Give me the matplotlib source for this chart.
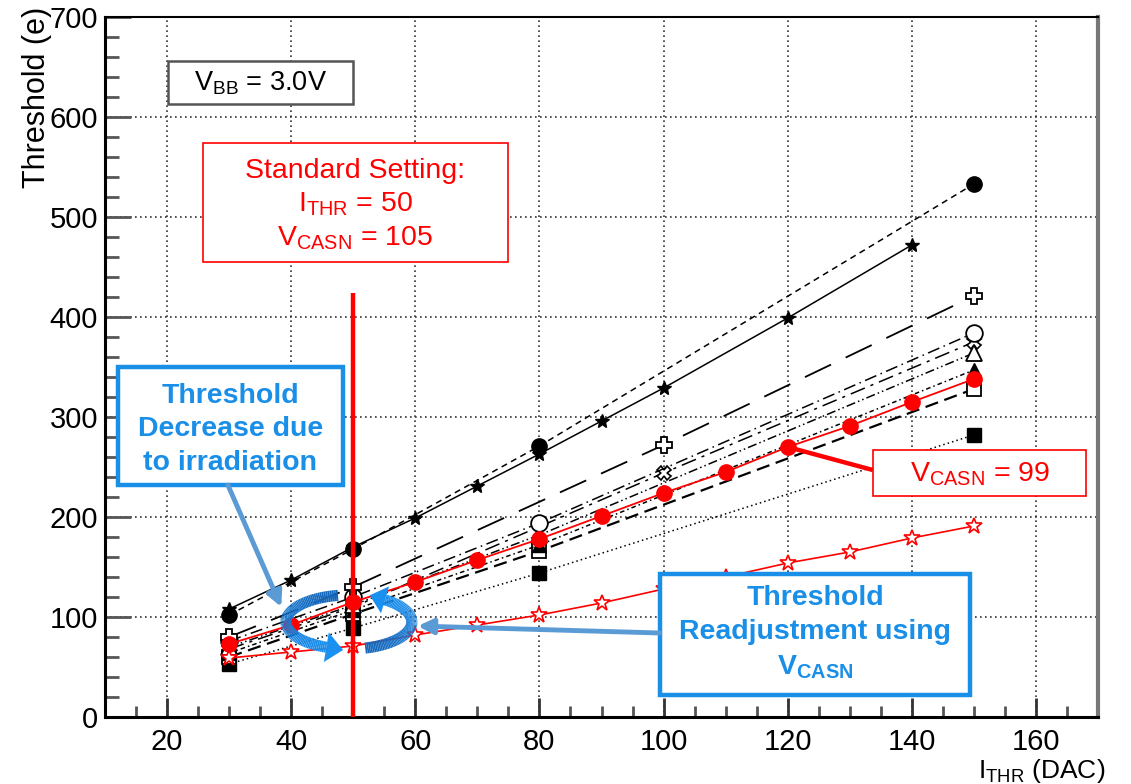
import numpy as np
import matplotlib
matplotlib.use("Agg")
import matplotlib.pyplot as plt
import matplotlib.transforms as mtransforms
from matplotlib.patches import Rectangle, Polygon
from matplotlib.collections import LineCollection
from matplotlib.ticker import MultipleLocator

plt.rcParams['font.family'] = ['Liberation Sans', 'DejaVu Sans']
plt.rcParams['mathtext.fontset'] = 'custom'
plt.rcParams['mathtext.rm'] = 'Liberation Sans'
plt.rcParams['mathtext.it'] = 'Liberation Sans:italic'
plt.rcParams['mathtext.bf'] = 'Liberation Sans:bold'

# ---------------- data ----------------
x_full = [30, 40, 50, 60, 70, 80, 90, 100, 110, 120, 130, 140, 150]
red_circle_y = [73, 92, 115, 135, 157, 178, 201, 224, 245, 270, 291, 315, 338]
red_star_y = [59, 65, 71, 82, 92, 102, 114, 128, 140, 154, 165, 179, 191]

star_x = [30, 40, 50, 60, 70, 80, 90, 100, 120, 140]
star_y = [108, 137, 170, 199, 231, 263, 296, 329, 399, 472]

x_four = [30, 50, 80, 150]
fcirc_y = [102, 168, 271, 533]
ocirc_y = [76, 120, 194, 384]
otri_y = [70, 112, 182, 364]
ftri_y = [64, 107, 172, 347]
osq_y = [60, 103, 166, 328]
fsq_y = [53, 89, 144, 282]

x_alt = [30, 50, 100, 150]
cross_y = [80, 130, 272, 421]
odiam_y = [68, 110, 244, 375]

xticks = [20, 40, 60, 80, 100, 120, 140, 160]
yticks = [0, 100, 200, 300, 400, 500, 600, 700]

# ---------------- figure ----------------
W, H = 1131, 784
fig = plt.figure(figsize=(W / 100, H / 100), dpi=100)
ax = fig.add_axes([105 / W, 1 - 717 / H, 993 / W, 700 / H])
ax.set_xlim(10, 170)
ax.set_ylim(0, 700)

ax.set_xticks(xticks)
ax.set_yticks(yticks)
ax.xaxis.set_minor_locator(MultipleLocator(5))
ax.yaxis.set_minor_locator(MultipleLocator(20))
ax.tick_params(axis='both', which='both', direction='in', labelsize=21)
ax.tick_params(axis='y', which='major', length=19, width=2, color='#555555', pad=5)
ax.tick_params(axis='y', which='minor', length=10, width=2, color='#555555')
ax.tick_params(axis='x', which='major', length=14, width=2, color='#333333', pad=8)
ax.tick_params(axis='x', which='minor', length=8, width=2, color='#555555')
ax.grid(True, which='major', linestyle=(0, (1, 2)), color='#333333', linewidth=1.2)
for s in ['left', 'bottom']:
    ax.spines[s].set_linewidth(2.2)
ax.spines['top'].set_linewidth(1.5)
ax.spines['right'].set_linewidth(3)
ax.spines['right'].set_color('#777777')

k = 'black'
lw = 1.1
ax.plot(x_four, fsq_y, color=k, lw=lw, ls=(0, (1, 2)), marker='s', ms=10, mfc=k, mec=k, zorder=3)
ax.plot(x_four, osq_y, color=k, lw=1.6, ls=(0, (6, 3)), marker='s', ms=10, mfc='white', mec=k, mew=1.3, zorder=3)
ax.plot(x_four, ftri_y, color=k, lw=lw, ls=(0, (3, 2, 1, 2)), marker='^', ms=10, mfc=k, mec=k, zorder=3)
ax.plot(x_alt, odiam_y, color=k, lw=lw, ls=(0, (10, 4, 2, 4)), marker='X', ms=10, mfc='white', mec=k, mew=1.2, zorder=3)
ax.plot(x_four, otri_y, color=k, lw=lw, ls=(0, (6, 2, 1, 2, 1, 2)), marker='^', ms=11, mfc='white', mec=k, mew=1.3, zorder=3)
ax.plot(x_four, ocirc_y, color=k, lw=lw, ls=(0, (8, 3, 1, 3)), marker='o', ms=12, mfc='white', mec=k, mew=1.3, zorder=3)
ax.plot(x_alt, cross_y, color=k, lw=1.3, ls=(0, (16, 9)), marker='P', ms=11, mfc='white', mec=k, mew=1.3, zorder=3)
ax.plot(star_x, star_y, color=k, lw=lw, ls='-', marker='*', ms=10, mfc=k, mec=k, zorder=3)
ax.plot(x_four, fcirc_y, color=k, lw=lw, ls=(0, (4, 3)), marker='o', ms=11, mfc=k, mec=k, zorder=3)

ax.plot(x_full, red_star_y, color='red', lw=1.2, marker='*', ms=12, mfc='white', mec='red', mew=1.2, zorder=4)
ax.plot(x_full, red_circle_y, color='red', lw=1.3, marker='o', ms=11, mfc='red', mec='red', zorder=4)

# standard setting line
ax.plot([50, 50], [0, 424], color='red', lw=3.2, zorder=5, solid_capstyle='butt')

# ---------------- annotation boxes ----------------
def box(x0, x1, y0, y1, ec, lw_):
    ax.add_patch(Rectangle((x0, y0), x1 - x0, y1 - y0, fill=True, fc='white',
                           ec=ec, lw=lw_, zorder=6, clip_on=False))

box(20.2, 50.0, 613, 656, '#555555', 1.8)
ax.text(35.1, 634, r"V$_{\mathrm{BB}}$ = 3.0V", ha='center', va='center', fontsize=19.5, zorder=7)

box(25.8, 74.9, 455, 574, 'red', 1.2)
ax.text(50.3, 546, "Standard Setting:", ha='center', va='center', fontsize=20.5, color='red', zorder=7)
ax.text(50.3, 513, r"I$_{\mathrm{THR}}$ = 50", ha='center', va='center', fontsize=20.5, color='red', zorder=7)
ax.text(50.3, 479, r"V$_{\mathrm{CASN}}$ = 105", ha='center', va='center', fontsize=20.5, color='red', zorder=7)

box(133.7, 168.1, 221, 267, 'red', 1.2)
ax.text(151, 243, r"V$_{\mathrm{CASN}}$ = 99", ha='center', va='center', fontsize=20.5, color='red', zorder=7)
ax.plot([120, 133.7], [270, 247], color='red', lw=3.2, zorder=5, solid_capstyle='butt')

blue = '#1a8fe8'
box(12.1, 48.3, 232, 350, blue, 3.2)
ax.text(30.2, 321, "Threshold", ha='center', va='center', fontsize=20.5, color=blue, fontweight='bold', zorder=7)
ax.text(30.2, 288, "Decrease due", ha='center', va='center', fontsize=20.5, color=blue, fontweight='bold', zorder=7)
ax.text(30.2, 254, "to irradiation", ha='center', va='center', fontsize=20.5, color=blue, fontweight='bold', zorder=7)

box(99.4, 149.4, 22, 143, blue, 3.2)
ax.text(124.4, 119, "Threshold", ha='center', va='center', fontsize=20.5, color=blue, fontweight='bold', zorder=7)
ax.text(124.4, 85, "Readjustment using", ha='center', va='center', fontsize=20.5, color=blue, fontweight='bold', zorder=7)
ax.text(124.4, 50, r"$\mathbf{V}_{\mathbf{CASN}}$", ha='center', va='center', fontsize=20.5, color=blue, zorder=7)

light = '#5b9bd5'
ax.annotate('', xy=(38.4, 110), xytext=(29.8, 232),
            arrowprops=dict(arrowstyle='-|>,head_length=0.9,head_width=0.45', color=light, lw=3.5,
                            shrinkA=0, shrinkB=0), zorder=6)
ax.annotate('', xy=(60.4, 91), xytext=(99.4, 84),
            arrowprops=dict(arrowstyle='-|>,head_length=0.9,head_width=0.45', color=light, lw=3.5,
                            shrinkA=0, shrinkB=0), zorder=6)

# ---------------- circular arrows (display coords) ----------------
cx, cy = ax.transData.transform((49.3, 95))
rx, ry = 63, 27
ident = mtransforms.IdentityTransform()


def arc_arrow(t0, t1, head_len, head_w, c_start, c_end):
    t = np.radians(np.linspace(t0, t1, 80))
    px = cx + rx * np.cos(t)
    py = cy + ry * np.sin(t)
    pts = np.column_stack([px, py])
    segs = np.stack([pts[:-1], pts[1:]], axis=1)
    c0 = np.array(matplotlib.colors.to_rgb(c_start))
    c1 = np.array(matplotlib.colors.to_rgb(c_end))
    f = np.linspace(0, 1, len(segs))[:, None]
    cols = c0 * (1 - f) + c1 * f
    lc = LineCollection(segs, colors=cols, linewidths=8, transform=ident, zorder=8, capstyle='butt')
    lc.set_clip_on(False)
    fig.add_artist(lc)
    te = t[-1]
    d = np.array([-rx * np.sin(te), ry * np.cos(te)])
    d = d / np.hypot(*d)
    n = np.array([-d[1], d[0]])
    base = np.array([px[-1], py[-1]])
    tip = base + d * head_len
    tri = Polygon([base + n * head_w / 2, tip, base - n * head_w / 2], closed=True,
                  fc=c_end, ec='none', transform=ident, zorder=8)
    tri.set_clip_on(False)
    fig.add_artist(tri)


arc_arrow(100, 249, 17, 30, '#1565b8', '#1a90f0')
arc_arrow(-75, 55, 16, 28, '#1565b8', '#1a90f0')

# ---------------- axis labels ----------------
ax.text(-0.068, 1.014, "Threshold (e)", rotation=90, ha='center', va='top',
        fontsize=22, transform=ax.transAxes)
ax.text(1.007, -0.077, r"I$_{\mathrm{THR}}$ (DAC)", ha='right', va='center',
        fontsize=19, transform=ax.transAxes)

fig.savefig("out.png", dpi=100)
